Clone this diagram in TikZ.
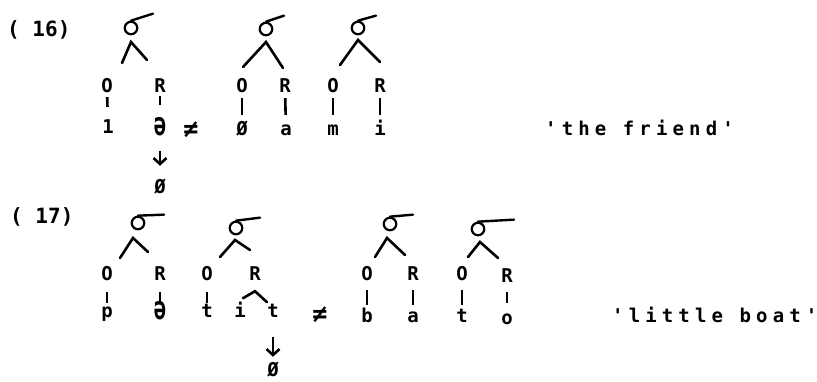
\documentclass[tikz,border=0pt]{standalone}
\usepackage{graphicx}
\usepackage{fontspec}
\newfontfamily\twfont{DejaVu Sans Mono}
\newfontfamily\twspfont{DejaVu Sans Mono}[LetterSpace=27]
\usetikzlibrary{arrows.meta,calc}
\newcommand\segfont{\twfont\bfseries\fontsize{19pt}{19pt}\selectfont}
\newcommand\bigsegfont{\twfont\bfseries\fontsize{25pt}{25pt}\selectfont}
\newcommand\labfont{\twfont\bfseries\fontsize{21pt}{21pt}\selectfont}
\newcommand\glossfont{\twspfont\bfseries\fontsize{19pt}{19pt}\selectfont}
\newcommand\schwa{\scalebox{1.1}[1.7]{ə}}
\begin{document}
\begin{tikzpicture}[x=1pt,y=-1pt,
  seg/.style={font=\segfont, inner sep=0pt, anchor=base, text height=13pt, text depth=4pt},
  bigseg/.style={seg, font=\bigsegfont},
  sig/.style={circle, draw, line width=2.2pt, minimum size=12.5pt, inner sep=0pt},
  tail/.style={line width=2.4pt, line cap=round},
  leg/.style={line width=2.6pt, line cap=round},
  lnk/.style={line width=2.6pt, shorten <=2pt, shorten >=7pt},
  arr/.style={line width=2.6pt, -{Straight Barb[length=6pt,width=13pt]}},
  lab/.style={font=\labfont, inner sep=0pt, anchor=base west},
  gloss/.style={font=\glossfont, inner sep=0pt, anchor=base west}]
\useasboundingbox (0,0) rectangle (817,381);
\fill[white] (0,0) rectangle (817,381);
% ---------- (16) ----------
\node[lab] (l16) at (7,36) {( 16)};
% tree A
\node[sig] (sA) at (131,28) {};
\draw[tail] (sA.north) -- ++(22,-7);
\coordinate (aA) at (131,42);
\draw[leg] (aA) ++(-9,21) -- (aA) -- ++(16,18);
\node[seg] (OA) at (107,92) {O};
\node[seg] (RA) at (160,92) {R};
\node[seg] (xA1) at (108,133) {1};
\node[seg] (xA2) at (160,135) {\schwa};
\node[seg] (zA) at (160,193) {Ø};
\draw[lnk, shorten <=1pt, shorten >=13pt] (OA) -- (xA1);
\draw[lnk, shorten <=0pt, shorten >=17pt] (RA) -- (xA2);
\draw[arr, shorten <=12pt, shorten >=14pt] (xA2) -- (zA);
\node[bigseg] (ne1) at (191,137) {≠};
% tree B
\node[sig] (sB) at (266,29) {};
\draw[tail] (sB.north) -- ++(18,-6);
\coordinate (aB) at (266,42);
\draw[leg] (aB) ++(-23,25) -- (aB) -- ++(17,26);
\node[seg] (OB) at (242,92) {O};
\node[seg] (RB) at (285,92) {R};
\node[seg] (xB1) at (242,135) {Ø};
\node[seg] (xB2) at (286,135) {a};
\draw[lnk] (OB) -- (xB1);
\draw[lnk] (RB) -- (xB2);
% tree C
\node[sig] (sC) at (358,28) {};
\draw[tail] (sC.north) -- ++(18,-5);
\coordinate (aC) at (358,40);
\draw[leg] (aC) ++(-18,25) -- (aC) -- ++(22,22);
\node[seg] (OC) at (333,92) {O};
\node[seg] (RC) at (380,92) {R};
\node[seg] (xC1) at (333,135) {m};
\node[seg] (xC2) at (380,135) {i};
\draw[lnk] (OC) -- (xC1);
\draw[lnk] (RC) -- (xC2);
\node[gloss] (g16) at (545,135) {'the friend'};
% ---------- (17) ----------
\node[lab] (l17) at (10,223) {( 17)};
% tree D
\node[sig] (sD) at (138,223) {};
\draw[tail] (sD.north) -- ++(26,-1);
\coordinate (aD) at (133,238);
\draw[leg] (aD) ++(-13,20) -- (aD) -- ++(15,14);
\node[seg] (OD) at (107,280) {O};
\node[seg] (RD) at (160,280) {R};
\node[seg] (xD1) at (107,317) {p};
\node[seg] (xD2) at (160,319) {\schwa};
\draw[lnk, shorten <=8pt, shorten >=1pt] (OD) -- (xD1);
\draw[lnk, shorten <=8pt, shorten >=3pt] (RD) -- (xD2);
% tree E
\node[sig] (sE) at (236,228) {};
\draw[tail] (sE.north) -- ++(24,-3);
\coordinate (aE) at (235,240);
\draw[leg] (aE) ++(-15,17) -- (aE) -- ++(15,10);
\node[seg] (OE) at (207,280) {O};
\node[seg] (RE) at (255,280) {R};
\node[seg] (xE1) at (207,317) {t};
\node[seg] (xE2) at (240,317) {i};
\node[seg] (xE3) at (273,317) {t};
\node[seg] (zE) at (273,376) {Ø};
\draw[lnk, shorten <=8pt, shorten >=1pt] (OE) -- (xE1);
\draw[leg] ($(RE.south)+(-12,14)$) -- ($(RE.south)+(0,7)$) -- ($(RE.south)+(12,18)$);
\draw[arr, shorten <=16pt, shorten >=6pt] (xE3) -- (zE);
\node[bigseg] (ne2) at (320,322) {≠};
% tree F
\node[sig] (sF) at (390,224) {};
\draw[tail] (sF.north) -- ++(23,-2);
\coordinate (aF) at (387,238);
\draw[leg] (aF) ++(-12,19) -- (aF) -- ++(18,17);
\node[seg] (OF) at (367,280) {O};
\node[seg] (RF) at (413,280) {R};
\node[seg] (xF1) at (367,322) {b};
\node[seg] (xF2) at (413,322) {a};
\draw[lnk, shorten <=6pt, shorten >=4pt] (OF) -- (xF1);
\draw[lnk, shorten <=6pt, shorten >=4pt] (RF) -- (xF2);
% tree G
\node[sig] (sG) at (478,229) {};
\draw[tail] (sG.north) -- ++(36,-2);
\coordinate (aG) at (480,242);
\draw[leg] (aG) ++(-12,15) -- (aG) -- ++(18,16);
\node[seg] (OG) at (462,280) {O};
\node[seg] (RG) at (507,282) {R};
\node[seg] (xG1) at (462,322) {t};
\node[seg] (xG2) at (507,324) {o};
\draw[lnk, shorten <=6pt, shorten >=4pt] (OG) -- (xG1);
\draw[lnk, shorten <=6pt, shorten >=8pt] (RG) -- (xG2);
\node[gloss] (g17) at (612,322) {'little boat'};
\end{tikzpicture}
\end{document}
